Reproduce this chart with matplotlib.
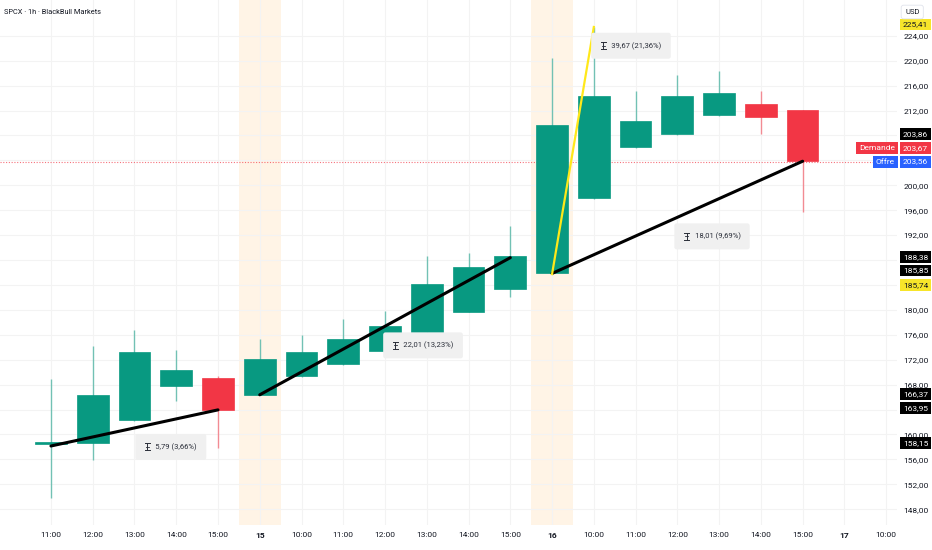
import numpy as np
import matplotlib.pyplot as plt
from matplotlib.transforms import blended_transform_factory

plt.rcParams['font.family'] = ['Roboto', 'DejaVu Sans']

# SPCX 1h candles
opens  = [158.4, 158.6, 162.4, 167.8, 169.1, 166.37, 169.4, 171.3, 173.4, 176.5,
          179.7, 183.3, 185.85, 197.9, 206.1, 208.2, 211.3, 213.0, 212.1]
highs  = [168.9, 174.2, 176.8, 173.6, 169.4, 175.3, 176.0, 178.6, 179.9, 188.7,
          189.1, 193.4, 220.4, 225.41, 215.1, 217.7, 218.3, 215.1, 212.1]
lows   = [149.8, 155.9, 162.2, 165.3, 157.8, 166.3, 169.3, 171.2, 173.3, 176.4,
          179.6, 182.0, 185.74, 197.8, 206.0, 208.1, 211.1, 208.2, 195.7]
closes = [158.8, 166.3, 173.2, 170.4, 163.95, 172.1, 173.2, 175.4, 177.4, 184.2,
          186.9, 188.6, 209.7, 214.4, 210.3, 214.4, 214.8, 211.0, 203.86]

xlabels = ["11:00", "12:00", "13:00", "14:00", "15:00", "15", "10:00", "11:00",
           "12:00", "13:00", "14:00", "15:00", "16", "10:00", "11:00", "12:00",
           "13:00", "14:00", "15:00", "17", "10:00"]
day_ticks = [5, 12, 19]
session_bands = [5, 12]

price_ticks = np.arange(148, 225, 4)
hidden_price_ticks = [164, 184, 188, 204, 208]   # covered by the tags in the original

# drawn trend lines: (x0, y0, x1, y1)
black_lines = [(0, 158.15, 4, 163.95),
               (5, 166.37, 11, 188.38),
               (12, 185.85, 18, 203.86)]
yellow_line = (12, 185.74, 13, 225.41)

# measure labels
measures = ["5,79 (3,66%)", "22,01 (13,23%)", "39,67 (21,36%)", "18,01 (9,69%)"]
measure_pos = [(2.87, 158.0), (8.91, 174.3), (13.89, 222.4), (15.83, 191.8)]

ask = 203.67
bid = 203.56

# price tags on the right axis: value, face, text colour, shift in px
tag_values = [225.41, 203.86, 203.67, 203.56, 188.38, 185.85, 185.74, 166.37, 163.95, 158.15]
tag_face = ['#F7E52A', '#000000', '#F23645', '#2962FF', '#000000', '#000000',
            '#F7E52A', '#000000', '#000000', '#000000']
tag_text = ['#131722', 'white', 'white', 'white', 'white', 'white',
            '#131722', 'white', 'white', 'white']
tag_shift = [2.5, 27.5, 14.5, 1.5, 1, 3, -11, 1, 2, 3]

green = '#089981'
red = '#F23645'

fig = plt.figure(figsize=(9.32, 5.5), dpi=100)
ax = fig.add_axes([0, 25 / 550, 897 / 932, 525 / 550])

x = np.arange(len(opens))
for i in x:
    o, h, l, c = opens[i], highs[i], lows[i], closes[i]
    col = green if c >= o else red
    ax.vlines(i, l, h, color=col, lw=1.0, alpha=0.55, zorder=2)
    ax.bar(i, abs(c - o), bottom=min(o, c), width=0.76, color=col,
           edgecolor=col, lw=0.5, zorder=3)

for b in session_bands:
    ax.axvspan(b - 0.5, b + 0.5, color='#FFF4E6', zorder=0, lw=0)

for x0, y0, x1, y1 in black_lines:
    ax.plot([x0, x1], [y0, y1], color='black', lw=2.2, solid_capstyle='round', zorder=5)
ax.plot([yellow_line[0], yellow_line[2]], [yellow_line[1], yellow_line[3]],
        color='#FFE81A', lw=1.6, zorder=5)

ax.axhline(ask, color=red, lw=0.8, ls=(0, (1, 1.5)), alpha=0.7, zorder=1)

measure_texts = []
for txt, (mx, my) in zip(measures, measure_pos):
    t = ax.text(mx, my, "      " + txt, ha='center', va='center', fontsize=5.5,
                color='#2a2e39', zorder=6,
                bbox=dict(boxstyle='round,pad=1.2,rounding_size=0.3', fc='#F0F0F0', ec='none'))
    measure_texts.append(t)

ax.set_xlim(-1.22, 20.26)
ax.set_ylim(145.47, 229.74)
ax.set_xticks(np.arange(len(xlabels)))
ax.set_xticklabels(xlabels)
for i in day_ticks:
    ax.get_xticklabels()[i].set_fontweight('bold')
ax.set_yticks(price_ticks)
ax.set_yticklabels(["" if v in hidden_price_ticks else f"{v:.2f}".replace('.', ',')
                    for v in price_ticks])
ax.yaxis.tick_right()
ax.tick_params(axis='both', length=0, labelsize=6, colors='#131722')
ax.tick_params(axis='y', pad=4.5)
ax.tick_params(axis='x', pad=5)
ax.grid(True, color='#F3F3F3', lw=0.8, zorder=0)
ax.set_axisbelow(True)
for s in ax.spines.values():
    s.set_visible(False)

trans = blended_transform_factory(ax.transAxes, ax.transData)
for v, fc, tc, sh in zip(tag_values, tag_face, tag_text, tag_shift):
    ax.annotate(f"{v:.2f}".replace('.', ','), xy=(1, v), xycoords=trans,
                xytext=(4.3, sh / 1.389), textcoords='offset points',
                ha='left', va='center', fontsize=6, color=tc, zorder=10,
                annotation_clip=False,
                bbox=dict(boxstyle='square,pad=0.35', fc=fc, ec='none'))

ax.annotate("Demande", xy=(1, ask), xycoords=trans, xytext=(-1.5, 14.5 / 1.389),
            textcoords='offset points', ha='right', va='center', fontsize=6,
            color='white', annotation_clip=False, zorder=10,
            bbox=dict(boxstyle='square,pad=0.35', fc=red, ec='none'))
ax.annotate("Offre", xy=(1, bid), xycoords=trans, xytext=(-1.5, 1.5 / 1.389),
            textcoords='offset points', ha='right', va='center', fontsize=6,
            color='white', annotation_clip=False, zorder=10,
            bbox=dict(boxstyle='square,pad=0.35', fc='#2962FF', ec='none'))

fig.text(905 / 932, 1 - 12 / 550, "USD", fontsize=5.5, color='#131722', ha='left', va='center',
         bbox=dict(boxstyle='round,pad=0.5,rounding_size=0.3', fc='white', ec='#E0E3EB', lw=0.6))
fig.text(4 / 932, 1 - 12 / 550, "SPCX \u00b7 1h \u00b7 BlackBull Markets", fontsize=5.3,
         color='#131722', ha='left', va='center')

# measure icon (I-beam with caps), no font has the glyph so draw it
fig.canvas.draw()
W, H = fig.bbox.width, fig.bbox.height
for t in measure_texts:
    bb = t.get_window_extent()
    ix = (bb.x0 + 3) / W
    iy = (bb.y0 + bb.y1) / 2 / H
    dh = 3.5 / H
    fig.add_artist(plt.Line2D([ix, ix], [iy - dh, iy + dh], color='#2a2e39', lw=0.7,
                              transform=fig.transFigure, zorder=7))
    for yy in (iy - dh, iy + dh):
        fig.add_artist(plt.Line2D([ix - 2.5 / W, ix + 2.5 / W], [yy, yy], color='#2a2e39',
                                  lw=0.7, transform=fig.transFigure, zorder=7))
    fig.add_artist(plt.Line2D([ix - 1.2 / W, ix + 1.2 / W], [iy, iy], color='#2a2e39',
                              lw=0.6, transform=fig.transFigure, zorder=7))

fig.savefig('out.png', dpi=100, facecolor='white')
